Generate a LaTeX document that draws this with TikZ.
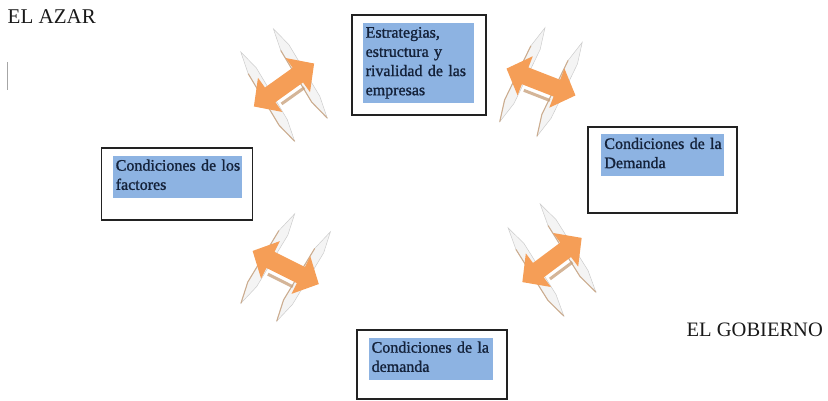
\documentclass[tikz,border=0pt]{standalone}
\usepackage{fontspec}
\setmainfont{Liberation Serif}
\newfontfamily\cajafont[FakeBold=1.2]{Liberation Serif}
\usetikzlibrary{positioning}
\definecolor{borde}{HTML}{222222}
\definecolor{resaltado}{HTML}{8DB3E2}
\definecolor{tinta}{HTML}{14223A}
\definecolor{naranja}{HTML}{F59E57}
\definecolor{tostado}{HTML}{C9A27E}
\definecolor{tiragris}{HTML}{F4F4F4}
\tikzset{
  caja/.style={rectangle, draw=borde, line width=1.1pt, fill=white, inner sep=0pt},
  resalte/.style={rectangle, fill=resaltado, text=tinta, align=left,
    font=\cajafont\fontsize{16}{19.2}\selectfont, inner xsep=3pt, inner ysep=0pt,
    execute at begin node={\rule{0pt}{15pt}},
    execute at end node={\rule[-8pt]{0pt}{8pt}}},
  rotulo/.style={font=\fontsize{21}{24}\selectfont, text=black!90, inner sep=0pt},
  tira/.style={fill=tiragris, draw=gray!40, line width=.5pt},
  filo/.style={draw=tostado, line width=1.1pt, opacity=.8},
  flecha/.pic={
    \foreach \u in {-20,20}{
      \draw[tira] (\u-4,-52) -- (\u+2.6,-30) -- (\u+7.4,30) -- (\u+4,52)
        -- (\u-2.6,30) -- (\u-7.4,-30) -- cycle;
      \draw[filo] (\u-4,-52) -- (\u-7.4,-30) -- (\u-2.6,30);
    }
    \draw[filo, line width=3pt] (-13,-14) -- (15,-14);
    \fill[naranja] (-37,0) -- (-17,21) -- (-17,9) -- (17,9) -- (17,21) -- (37,0)
      -- (17,-21) -- (17,-9) -- (-17,-9) -- (-17,-21) -- cycle;
  }
}

\begin{document}
\begin{tikzpicture}[x=1pt, y=1pt]
  \useasboundingbox (0,0) rectangle (828,401);

  \node[caja, minimum width=134pt, minimum height=100pt] (empresas) at (419,336) {};
  \node[resalte, text width=105pt, below right=8pt and 11pt of empresas.north west]
    (empresas-txt) {Estrategias,\\estructura y\\rivalidad de las\\empresas};

  \node[caja, minimum width=151pt, minimum height=72pt] (factores) at (177.3,217) {};
  \node[resalte, text width=123pt, below right=8pt and 11.3pt of factores.north west]
    (factores-txt) {\mbox{Condiciones de los}\\factores};

  \node[caja, minimum width=149pt, minimum height=86pt] (demanda-d) at (662.5,231) {};
  \node[resalte, text width=117pt, below right=7.3pt and 13.7pt of demanda-d.north west]
    (demanda-d-txt) {\mbox{Condiciones de la}\\Demanda};

  \node[caja, minimum width=150pt, minimum height=69pt] (demanda-b) at (432,36.5) {};
  \node[resalte, text width=118pt, below right=8pt and 12pt of demanda-b.north west]
    (demanda-b-txt) {\mbox{Condiciones de la}\\demanda};

  \pic[rotate=35.5] (flecha-fe) at (284,316) {flecha};
  \pic[rotate=-21.3] (flecha-ed) at (541,319) {flecha};
  \pic[rotate=-26.6] (flecha-fd) at (285.7,133.5) {flecha};
  \pic[rotate=36.7] (flecha-dd) at (552,141) {flecha};

  \node[rotulo, anchor=base west] (azar) at (7.5,377) {EL AZAR};
  \node[rotulo, font=\fontsize{20.5}{24}\selectfont, anchor=base east] (gobierno)
    at (823,64) {EL GOBIERNO};

  \coordinate (cursor-a) at (7.5,339);
  \coordinate (cursor-b) at (7.5,311);
  \draw[gray!70, line width=.8pt] (cursor-a) -- (cursor-b);
\end{tikzpicture}
\end{document}
